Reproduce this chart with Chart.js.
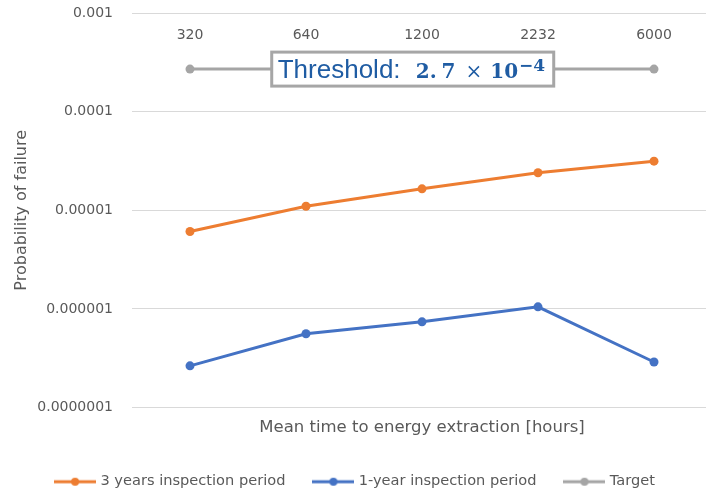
<!DOCTYPE html>
<html lang="en">
<head>
    <meta charset="UTF-8">
    <title>Probability of failure</title>
    <style>
        html, body { margin: 0; padding: 0; background: #fff; overflow: hidden; }
        #pofChart { position: absolute; left: 0; top: 0; }
    </style>
    <script src="https://cdn.jsdelivr.net/npm/chart.js"></script>
</head>
<body>
    <canvas id="pofChart" width="712" height="491"></canvas>

    <script>
        // data
        const categories = ['320', '640', '1200', '2232', '6000'];
        const threeYears = [6.1e-6, 1.1e-5, 1.65e-5, 2.4e-5, 3.15e-5];
        const oneYear = [2.65e-7, 5.6e-7, 7.4e-7, 1.05e-6, 2.9e-7];
        const target = [2.7e-4, 2.7e-4, 2.7e-4, 2.7e-4, 2.7e-4];
        const yTicks = [1e-7, 1e-6, 1e-5, 1e-4, 1e-3];
        const yTickLabels = ['0.0000001', '0.000001', '0.00001', '0.0001', '0.001'];

        const FONT = "'DejaVu Sans', Verdana, sans-serif";
        const GREY_TEXT = '#595959';

        // small legend icon: line with a dot in the middle
        function legendIcon(color) {
            const c = document.createElement('canvas');
            c.width = 42;
            c.height = 12;
            const g = c.getContext('2d');
            g.strokeStyle = color;
            g.lineWidth = 3;
            g.beginPath();
            g.moveTo(0, 6);
            g.lineTo(42, 6);
            g.stroke();
            g.fillStyle = color;
            g.beginPath();
            g.arc(21, 6, 4, 0, Math.PI * 2);
            g.fill();
            return c;
        }

        // category labels drawn inside the plot, just under the top gridline
        const topLabels = {
            id: 'topLabels',
            afterDraw(chart) {
                const ctx = chart.ctx;
                const x = chart.scales.x;
                ctx.save();
                ctx.font = '14px ' + FONT;
                ctx.fillStyle = GREY_TEXT;
                ctx.textAlign = 'center';
                ctx.textBaseline = 'middle';
                categories.forEach((c, i) => {
                    ctx.fillText(c, x.getPixelForValue(i), chart.chartArea.top + 22);
                });
                ctx.restore();
            }
        };

        // threshold text box sitting on the target line
        const thresholdBox = {
            id: 'thresholdBox',
            afterDatasetsDraw(chart) {
                const ctx = chart.ctx;
                const cx = chart.scales.x.getPixelForValue(1.92);
                const cy = chart.scales.y.getPixelForValue(target[0]);
                const w = 282, h = 34;
                const left = cx - w / 2, top = cy - h / 2;
                ctx.save();
                ctx.fillStyle = '#ffffff';
                ctx.fillRect(left, top, w, h);
                ctx.strokeStyle = '#a6a6a6';
                ctx.lineWidth = 3;
                ctx.strokeRect(left, top, w, h);

                ctx.fillStyle = '#1f5ca3';
                ctx.textBaseline = 'alphabetic';
                ctx.textAlign = 'left';
                const base = cy + 9;
                ctx.font = "26px 'Liberation Sans', Arial, sans-serif";
                ctx.fillText('Threshold:', left + 6, base);

                const bold = "bold 20px 'DejaVu Serif', serif";
                let tx = left + 144;
                ctx.font = bold;
                ctx.fillText('2.', tx, base);
                tx += ctx.measureText('2.').width + 5;
                ctx.fillText('7', tx, base);
                tx += ctx.measureText('7').width + 10;
                ctx.font = "20px 'DejaVu Serif', serif";
                ctx.fillText('\u00d7', tx, base);
                tx += ctx.measureText('\u00d7').width + 8;
                ctx.font = bold;
                ctx.fillText('10', tx, base);
                tx += ctx.measureText('10').width + 1;
                ctx.font = "bold 17px 'DejaVu Serif', serif";
                ctx.fillText('\u22124', tx, base - 7);
                ctx.restore();
            }
        };

        const lineSet = (label, data, color) => ({
            label: label,
            data: data,
            borderColor: color,
            backgroundColor: color,
            borderWidth: 3,
            pointRadius: 4.5,
            pointHoverRadius: 4.5,
            pointBorderWidth: 0,
            tension: 0,
            icon: legendIcon(color)
        });

        const ctx = document.getElementById('pofChart').getContext('2d');
        new Chart(ctx, {
            type: 'line',
            data: {
                labels: categories,
                datasets: [
                    lineSet('3 years inspection period', threeYears, '#ed7d31'),
                    lineSet('1-year inspection period', oneYear, '#4472c4'),
                    lineSet('Target', target, '#a5a5a5')
                ]
            },
            options: {
                responsive: false,
                animation: false,
                layout: { autoPadding: false, padding: { top: 13, left: 0, right: 0, bottom: -8 } },
                scales: {
                    x: {
                        type: 'category',
                        position: 'bottom',
                        offset: true,
                        afterFit(scale) {
                            scale.paddingLeft = 0;
                            scale.paddingRight = 0;
                        },
                        grid: { display: false, drawTicks: false },
                        border: { display: false },
                        ticks: { display: false },
                        title: {
                            display: true,
                            text: 'Mean time to energy extraction [hours]',
                            color: GREY_TEXT,
                            font: { family: FONT, size: 16.5 },
                            padding: { top: 10, bottom: 7 }
                        }
                    },
                    y: {
                        type: 'logarithmic',
                        min: 1e-7,
                        max: 1e-3,
                        afterBuildTicks(scale) {
                            scale.ticks = yTicks.map(v => ({ value: v }));
                        },
                        afterFit(scale) {
                            scale.width = 132;
                            // labels may hang over the plot edges, no extra room needed
                            scale.paddingTop = 0;
                            scale.paddingBottom = 0;
                        },
                        grid: { color: '#d9d9d9', lineWidth: 1, drawTicks: false },
                        border: { display: false },
                        ticks: {
                            padding: 19,
                            color: GREY_TEXT,
                            font: { family: FONT, size: 14 },
                            callback: function(value) {
                                const i = yTicks.findIndex(t => Math.abs(Math.log10(t) - Math.log10(value)) < 1e-6);
                                return i >= 0 ? yTickLabels[i] : '';
                            }
                        },
                        title: {
                            display: true,
                            text: 'Probability of failure',
                            color: GREY_TEXT,
                            font: { family: FONT, size: 16 },
                            padding: { top: 12, bottom: 0 }
                        }
                    }
                },
                plugins: {
                    legend: {
                        position: 'bottom',
                        labels: {
                            usePointStyle: true,
                            pointStyleWidth: 36,
                            padding: 30,
                            color: GREY_TEXT,
                            font: { family: FONT, size: 14.6 },
                            generateLabels(chart) {
                                return chart.data.datasets.map((ds, i) => ({
                                    text: ds.label,
                                    pointStyle: ds.icon,
                                    fillStyle: ds.borderColor,
                                    strokeStyle: ds.borderColor,
                                    lineWidth: 0,
                                    fontColor: GREY_TEXT,
                                    hidden: false,
                                    datasetIndex: i
                                }));
                            }
                        }
                    },
                    tooltip: { enabled: false }
                }
            },
            plugins: [topLabels, thresholdBox]
        });
    </script>
</body>
</html>
